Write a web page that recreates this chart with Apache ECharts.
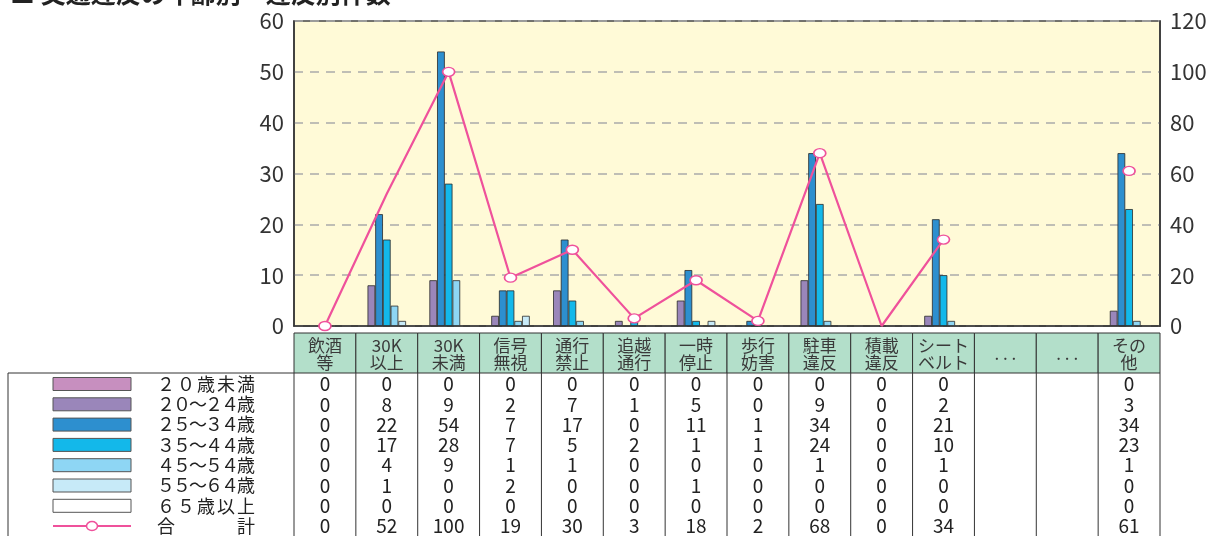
<!DOCTYPE html>
<html><head><meta charset="utf-8">
<script src="https://cdn.jsdelivr.net/npm/echarts@6/dist/echarts.min.js"></script>
<style>html,body{margin:0;padding:0;background:#fff;}#c{width:1224px;height:536px;}</style>
</head><body><div id="c"></div>
<script>
// ---- data ----
const categories = ['飲酒\n等','30K\n以上','30K\n未満','信号\n無視','通行\n禁止','追越\n通行','一時\n停止','歩行\n妨害','駐車\n違反','積載\n違反','シート\nベルト','. . .','. . .','その\n他'];
const seriesNames = ['２０歳未満','２０～２４歳','２５～３４歳','３５～４４歳','４５～５４歳','５５～６４歳','６５歳以上','合　　計'];
const under20 = [0,0,0,0,0,0,0,0,0,0,0,null,null,0];
const age20_24 = [0,8,9,2,7,1,5,0,9,0,2,null,null,3];
const age25_34 = [0,22,54,7,17,0,11,1,34,0,21,null,null,34];
const age35_44 = [0,17,28,7,5,2,1,1,24,0,10,null,null,23];
const age45_54 = [0,4,9,1,1,0,0,0,1,0,1,null,null,1];
const age55_64 = [0,1,0,2,0,0,1,0,0,0,0,null,null,0];
const age65plus = [0,0,0,0,0,0,0,0,0,0,0,null,null,0];
const total = [0,52,100,19,30,3,18,2,68,0,34,null,null,61];
const leftTicks = {min:0,max:60,interval:10};
const rightTicks = {min:0,max:120,interval:20};
const title = '■ 交通違反の年齢別・違反別件数';

// ---- style ----
const barSeriesData = [under20,age20_24,age25_34,age35_44,age45_54,age55_64,age65plus];
const colors = ['#c78fbf','#9a86ba','#2d8fcf','#13b8ea','#8ed6f4','#c7eaf8','#ffffff'];
const lineColor = '#ef519b';
const hiddenMarkers = [1,9];
const FONT = '"Noto Sans CJK JP", sans-serif';
const G = {left:294, top:21, right:64, height:305};
const W = 1224 - G.left - G.right;
const cw = W / categories.length;
const headTop = 333, headBot = 373, rowTop = 384, rowH = 20.3;

const series = barSeriesData.map((d,i)=>({
  name: seriesNames[i], type:'bar', yAxisIndex:0,
  data: d.map(v => (v===0 ? '-' : v)),
  barWidth: 7.7, barGap:'0%',
  itemStyle:{color:colors[i], borderColor:'#2a2a2a', borderWidth:0.8},
  silent:true, animation:false
}));
series.push({
  name: seriesNames[7], type:'line', yAxisIndex:1, z:5,
  data: total.map((v,i)=> hiddenMarkers.includes(i) ? {value:v, symbol:'none'} : v),
  connectNulls:false, symbol:'circle', symbolSize:[12,9], showAllSymbol:true,
  lineStyle:{color:lineColor, width:2.2},
  itemStyle:{color:'#fff', borderColor:lineColor, borderWidth:1.5},
  animation:false
});

// ---- table graphics ----
const g = [];
const lineStyle = {stroke:'#333', lineWidth:1};
g.push({type:'text', left:10, top:-19, style:{text:title, font:'bold 25px '+FONT, fill:'#222'}});
for (let i=0;i<categories.length;i++){
  const x0 = G.left + i*cw;
  g.push({type:'rect', shape:{x:x0, y:headTop, width:cw, height:headBot-headTop},
    style:{fill:'#b3dfca', stroke:'#333', lineWidth:1}});
  g.push({type:'text', x:x0+cw/2, y:(headTop+headBot)/2+1,
    style:{text:categories[i], font:'17px '+FONT, fill:'#3a3a3a', align:'center', verticalAlign:'middle', lineHeight:17}});
}
for (let i=0;i<=categories.length;i++){
  const x = G.left + i*cw;
  g.push({type:'line', shape:{x1:x,y1:headBot,x2:x,y2:540}, style:lineStyle});
}
g.push({type:'line', shape:{x1:8,y1:headBot,x2:G.left,y2:headBot}, style:lineStyle});
g.push({type:'line', shape:{x1:8,y1:headBot,x2:8,y2:540}, style:lineStyle});
const rows = barSeriesData.concat([total]);
rows.forEach((arr,r)=>{
  const y = rowTop + r*rowH;
  arr.forEach((v,i)=>{
    if (v===null) return;
    g.push({type:'text', x:G.left+i*cw+cw/2, y:y,
      style:{text:String(v), font:'19px '+FONT, fill:'#222', align:'center', verticalAlign:'middle'}});
  });
  if (r<7){
    g.push({type:'rect', shape:{x:53,y:y-6.5,width:78,height:13}, style:{fill:colors[r], stroke:'#555', lineWidth:1}});
  } else {
    g.push({type:'line', shape:{x1:53,y1:y,x2:131,y2:y}, style:{stroke:lineColor, lineWidth:2}});
    g.push({type:'ellipse', shape:{cx:92,cy:y,rx:5.5,ry:4.5}, style:{fill:'#fff', stroke:lineColor, lineWidth:1.5}});
  }
  const chars = Array.from(seriesNames[r]);
  const x0 = 158, x1 = 254, n = chars.length;
  chars.forEach((ch,k)=>{
    if (ch==='　') return;
    const cx = n===1 ? x0 : x0 + 8 + k*((x1-x0-16)/(n-1));
    g.push({type:'text', x:cx, y:y, style:{text:ch, font:'18px '+FONT, fill:'#222', align:'center', verticalAlign:'middle'}});
  });
});

const chart = echarts.init(document.getElementById('c'), null, {renderer:'canvas'});
chart.setOption({
  animation:false,
  grid:{left:G.left, top:G.top, right:G.right, height:G.height, show:true, backgroundColor:'#fffad7', borderColor:'#444', borderWidth:1.5, containLabel:false},
  xAxis:{type:'category', data:categories, axisLabel:{show:false}, axisTick:{show:false},
    axisLine:{lineStyle:{color:'#333', width:1.5}}, splitLine:{show:false}},
  yAxis:[
    {type:'value', min:leftTicks.min, max:leftTicks.max, interval:leftTicks.interval,
     axisLine:{show:true, lineStyle:{color:'#333', width:1.5}}, axisTick:{show:false},
     axisLabel:{fontSize:22, color:'#333', margin:10, fontFamily:FONT},
     splitLine:{show:true, lineStyle:{color:'#aaa', type:[9,7], width:1.5}}},
    {type:'value', min:rightTicks.min, max:rightTicks.max, interval:rightTicks.interval, position:'right',
     axisLine:{show:true, lineStyle:{color:'#333', width:1.5}}, axisTick:{show:false},
     axisLabel:{fontSize:22, color:'#333', margin:10, fontFamily:FONT},
     splitLine:{show:false}}
  ],
  series: series,
  graphic: g
});
</script></body></html>
